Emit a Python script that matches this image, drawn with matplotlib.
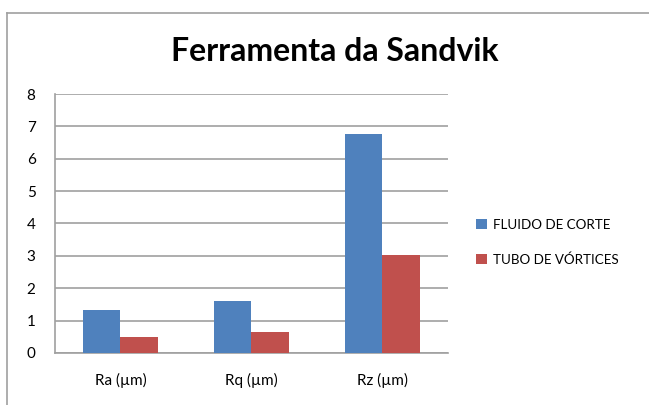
import matplotlib.pyplot as plt
import numpy as np

categorias = ["Ra (µm)", "Rq (µm)", "Rz (µm)"]
fluido_corte = [1.33, 1.60, 6.76]
tubo_vortices = [0.49, 0.65, 3.02]
series = ["FLUIDO DE CORTE", "TUBO DE VÓRTICES"]

plt.rcParams['font.family'] = ['Lato', 'DejaVu Sans']

fig = plt.figure(figsize=(6.49, 4.05), dpi=100)
ax = fig.add_axes([0.0847, 0.1284, 0.6055, 0.6395])

x = np.arange(len(categorias))
w = 0.283
ax.bar(x - w / 2, fluido_corte, w, color="#4F81BD", label=series[0], zorder=3)
ax.bar(x + w / 2, tubo_vortices, w, color="#C0504D", label=series[1], zorder=3)

ax.set_xlim(-0.5, 2.5)
ax.set_ylim(0, 8)
ax.set_yticks(range(0, 9))
ax.set_xticks(x)
ax.set_xticklabels(categorias, fontsize=11)
ax.tick_params(axis='y', labelsize=11, length=0, pad=14)
ax.tick_params(axis='x', length=0, pad=14)
ax.grid(axis='y', color="#a0a0a0", linewidth=1.2, zorder=0)
for s in ["top", "right"]:
    ax.spines[s].set_visible(False)
for s in ["left", "bottom"]:
    ax.spines[s].set_color("#a0a0a0")
    ax.spines[s].set_linewidth(1.2)

fig.text(0.516, 0.872, "Ferramenta da Sandvik", ha="center", va="center",
         fontsize=23, fontweight="bold")

leg = fig.legend(loc="center left", bbox_to_anchor=(0.715, 0.402), frameon=False,
                 fontsize=9.6, handlelength=0.8, handleheight=0.8,
                 handletextpad=0.45, labelspacing=1.7)

# borde exterior del gráfico
fig.add_artist(plt.Line2D([0.011, 0.011], [0, 0.968], color="#a0a0a0", lw=1.2))
fig.add_artist(plt.Line2D([0.011, 1], [0.968, 0.968], color="#a0a0a0", lw=1.2))

fig.savefig("out.png", dpi=100)
